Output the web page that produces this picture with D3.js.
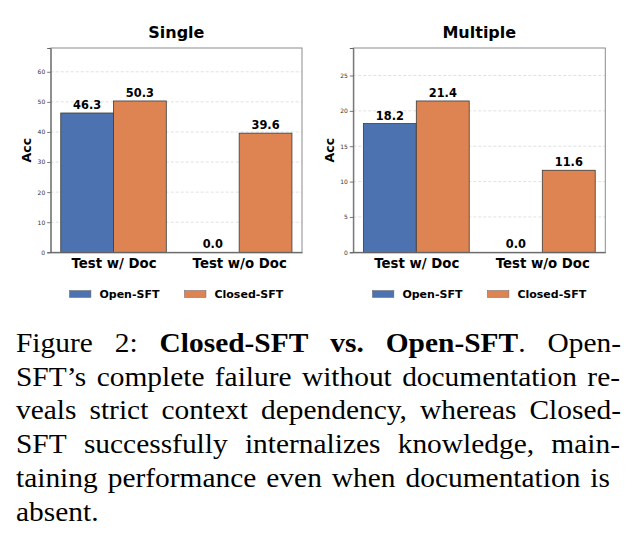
<!DOCTYPE html>
<html><head><meta charset="utf-8">
<script src="https://cdn.jsdelivr.net/npm/d3@7"></script>
<style>body{margin:0;background:#fff}svg{display:block}</style>
</head><body>
<svg id="c" width="630" height="540"></svg>
<script>
const categories = ["Test w/ Doc", "Test w/o Doc"];
const seriesNames = ["Open-SFT", "Closed-SFT"];
const panelTitles = ["Single", "Multiple"];
const singleOpen = [46.3, 0.0];
const singleClosed = [50.3, 39.6];
const multipleOpen = [18.2, 0.0];
const multipleClosed = [21.4, 11.6];
const singleTicks = [0, 10, 20, 30, 40, 50, 60];
const multipleTicks = [0, 5, 10, 15, 20, 25];
const colors = ["#4C72B0", "#DD8452"];

const captionLines = [
  [[["Figure",0]],[["2:",0]],[["Closed-SFT",1]],[["vs.",1]],[["Open-SFT",1],[".",0]],[["Open-",0]]],
  [[["SFT\u2019s",0]],[["complete",0]],[["failure",0]],[["without",0]],[["documentation",0]],[["re-",0]]],
  [[["veals",0]],[["strict",0]],[["context",0]],[["dependency,",0]],[["whereas",0]],[["Closed-",0]]],
  [[["SFT",0]],[["successfully",0]],[["internalizes",0]],[["knowledge,",0]],[["main-",0]]],
  [[["taining",0]],[["performance",0]],[["even",0]],[["when",0]],[["documentation",0]],[["is",0]]],
  [[["absent.",0]]]
];

const svg = d3.select("#c");
const font = "'DejaVu Sans', sans-serif";

const panels = [
  {title: panelTitles[0], open: singleOpen, closed: singleClosed, ticks: singleTicks, left: 50.7, right: 302},
  {title: panelTitles[1], open: multipleOpen, closed: multipleClosed, ticks: multipleTicks, left: 353.3, right: 605.3}
];
const axTop = 48, axBottom = 252.3;
const barW = 0.42;

panels.forEach(p => {
  const g = svg.append("g");
  const ymax = d3.max([...p.open, ...p.closed]) * 1.35;
  const x = d3.scaleLinear().domain([-0.5, 1.5]).range([p.left, p.right]);
  const y = d3.scaleLinear().domain([0, ymax]).range([axBottom, axTop]);

  g.selectAll(".grid").data(p.ticks.filter(t => t > 0)).enter().append("line")
    .attr("x1", p.left).attr("x2", p.right)
    .attr("y1", d => y(d)).attr("y2", d => y(d))
    .attr("stroke", "#d4d4d4").attr("stroke-width", 0.7).attr("stroke-dasharray", "3,2");

  const series = [p.open, p.closed];
  series.forEach((vals, si) => {
    g.selectAll(".b" + si).data(vals).enter().append("rect")
      .attr("x", (d, i) => x(i + (si === 0 ? -barW : 0)))
      .attr("width", x(barW) - x(0))
      .attr("y", d => y(d))
      .attr("height", d => y(0) - y(d))
      .attr("fill", colors[si])
      .attr("stroke", "#3a3a3a").attr("stroke-width", 0.8);
    g.selectAll(".l" + si).data(vals).enter().append("text")
      .attr("x", (d, i) => x(i + (si === 0 ? -barW / 2 : barW / 2)))
      .attr("y", d => y(d) - 4)
      .attr("text-anchor", "middle")
      .attr("font-family", font).attr("font-weight", "bold").attr("font-size", 11.4)
      .attr("fill", "#000")
      .text(d => d.toFixed(1));
  });

  g.append("rect").attr("x", p.left).attr("y", axTop)
    .attr("width", p.right - p.left).attr("height", axBottom - axTop)
    .attr("fill", "none").attr("stroke", "#8c8c8c").attr("stroke-width", 1);

  const ya = d3.axisLeft(y).tickValues(p.ticks).tickSize(3.5).tickPadding(2).tickFormat(d3.format("d"));
  const yg = g.append("g").attr("transform", `translate(${p.left},0)`).call(ya);
  yg.select(".domain").attr("stroke", "#666").attr("stroke-width", 1);
  yg.selectAll(".tick line").attr("stroke", "#555").attr("stroke-width", 0.8);
  yg.selectAll(".tick text").attr("font-family", font).attr("font-size", 6).attr("fill", "#333");

  const xa = d3.axisBottom(x).tickValues([0, 1]).tickSize(0).tickPadding(0).tickFormat(i => categories[i]);
  const xg = g.append("g").attr("transform", `translate(0,${axBottom})`).call(xa);
  xg.select(".domain").attr("stroke", "#555").attr("stroke-width", 1);
  xg.selectAll(".tick text").attr("font-family", font).attr("font-weight", "bold")
    .attr("font-size", 13.3).attr("fill", "#000").attr("dy", null).attr("y", 16.2);

  g.append("text").attr("x", (p.left + p.right) / 2).attr("y", 38.3)
    .attr("text-anchor", "middle").attr("font-family", font).attr("font-weight", "bold")
    .attr("font-size", 16).attr("fill", "#000").text(p.title);

  g.append("text").attr("transform", `translate(${p.left - 19.5},${(axTop + axBottom) / 2}) rotate(-90)`)
    .attr("text-anchor", "middle").attr("font-family", font).attr("font-weight", "bold")
    .attr("font-size", 12.6).attr("fill", "#000").text("Acc");

  const cx = (p.left + p.right) / 2;
  const lg = g.append("g");
  let cur = 0;
  seriesNames.forEach((n, i) => {
    const it = lg.append("g").attr("transform", `translate(${cur},0)`);
    it.append("rect").attr("x", 0).attr("y", 290.5).attr("width", 21.5).attr("height", 7)
      .attr("fill", colors[i]).attr("stroke", "#666").attr("stroke-width", 0.5);
    const t = it.append("text").attr("x", 30).attr("y", 298.3)
      .attr("font-family", font).attr("font-weight", "bold").attr("font-size", 11)
      .attr("fill", "#000").text(n);
    const w = t.node().getComputedTextLength();
    cur += 30 + w + 25;
  });
  const totalW = cur - 25;
  lg.attr("transform", `translate(${cx - totalW / 2},0)`);
});

// caption (justified serif)
const serif = "'Liberation Serif', 'Times New Roman', serif";
const baselines = [352.3, 386, 419.3, 453.3, 487.3, 521];
const rights = [621, 620, 621, 620, 610, null];
const leftX = 16;
const sx = 1.07;
const cap = svg.append("g");
captionLines.forEach((line, li) => {
  const words = line.map(word => {
    const t = cap.append("text")
      .attr("font-family", serif).attr("font-size", 27.5).attr("fill", "#000");
    word.forEach(seg => {
      t.append("tspan").attr("font-weight", seg[1] ? "bold" : "normal").text(seg[0]);
    });
    return {t, w: t.node().getComputedTextLength() * sx};
  });
  const total = d3.sum(words, d => d.w);
  let gap = 8;
  if (rights[li] !== null && words.length > 1) gap = (rights[li] - leftX - total) / (words.length - 1);
  let xx = leftX;
  words.forEach(wd => {
    wd.t.attr("transform", `translate(${xx},${baselines[li]}) scale(${sx},1)`);
    xx += wd.w + gap;
  });
});
</script>
</body></html>
